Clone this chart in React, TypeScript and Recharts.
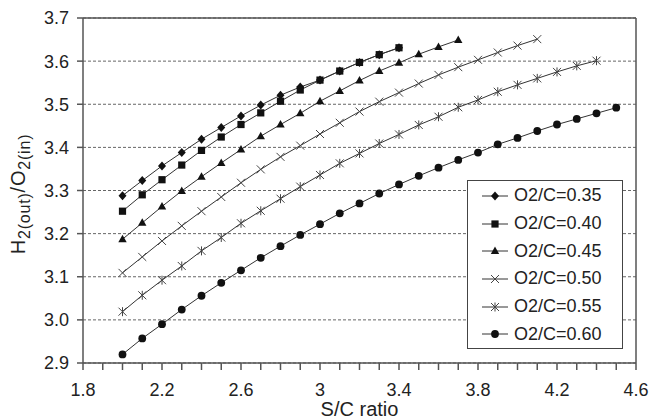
import React from "react";
import {
  LineChart,
  Line,
  XAxis,
  YAxis,
  CartesianGrid,
  ReferenceLine,
  Label,
} from "recharts";

// S/C ratio values (x), shared by all series; each series starts at 2.0
const scRatio = [
  2.0, 2.1, 2.2, 2.3, 2.4, 2.5, 2.6, 2.7, 2.8, 2.9, 3.0, 3.1, 3.2, 3.3, 3.4,
  3.5, 3.6, 3.7, 3.8, 3.9, 4.0, 4.1, 4.2, 4.3, 4.4, 4.5,
];

const o2c035 = [
  3.288, 3.323, 3.357, 3.388, 3.419, 3.446, 3.473, 3.498, 3.521, 3.54, 3.556,
  3.577, 3.597, 3.615, 3.631,
];
const o2c040 = [
  3.252, 3.29, 3.325, 3.359, 3.393, 3.424, 3.453, 3.48, 3.507, 3.533, 3.556,
  3.577, 3.597, 3.615, 3.631,
];
const o2c045 = [
  3.187, 3.225, 3.263, 3.299, 3.332, 3.364, 3.395, 3.426, 3.453, 3.479, 3.507,
  3.531, 3.555, 3.577, 3.596, 3.616, 3.633, 3.649,
];
const o2c050 = [
  3.109, 3.146, 3.183, 3.218, 3.252, 3.285, 3.318, 3.349, 3.378, 3.404, 3.431,
  3.457, 3.483, 3.506, 3.527, 3.548, 3.568, 3.586, 3.603, 3.62, 3.636, 3.651,
];
const o2c055 = [
  3.019, 3.057, 3.092, 3.125, 3.16, 3.191, 3.224, 3.253, 3.281, 3.309, 3.336,
  3.363, 3.386, 3.409, 3.43, 3.452, 3.471, 3.493, 3.51, 3.529, 3.545, 3.56,
  3.575, 3.589, 3.601,
];
const o2c060 = [
  2.92, 2.957, 2.99, 3.024, 3.056, 3.086, 3.115, 3.144, 3.171, 3.197, 3.222,
  3.247, 3.27, 3.293, 3.314, 3.334, 3.353, 3.371, 3.388, 3.407, 3.422, 3.438,
  3.453, 3.466, 3.479, 3.492,
];

const xTicks = [
  1.8, 1.9, 2.0, 2.1, 2.2, 2.3, 2.4, 2.5, 2.6, 2.7, 2.8, 2.9, 3.0, 3.1, 3.2,
  3.3, 3.4, 3.5, 3.6, 3.7, 3.8, 3.9, 4.0, 4.1, 4.2, 4.3, 4.4, 4.5, 4.6,
];
const yTicks = [2.9, 3.0, 3.1, 3.2, 3.3, 3.4, 3.5, 3.6, 3.7];

type Marker = "diamond" | "square" | "triangle" | "cross" | "star" | "circle";

const series: { name: string; values: number[]; marker: Marker }[] = [
  { name: "O2/C=0.35", values: o2c035, marker: "diamond" },
  { name: "O2/C=0.40", values: o2c040, marker: "square" },
  { name: "O2/C=0.45", values: o2c045, marker: "triangle" },
  { name: "O2/C=0.50", values: o2c050, marker: "cross" },
  { name: "O2/C=0.55", values: o2c055, marker: "star" },
  { name: "O2/C=0.60", values: o2c060, marker: "circle" },
];

const FONT = "'Liberation Sans', Arial, sans-serif";
const INK = "#111";
const LINE = "#333";

function markerShape(m: Marker, cx: number, cy: number, key?: string) {
  switch (m) {
    case "diamond":
      return (
        <path key={key} d={`M${cx},${cy - 4.5}L${cx + 4},${cy}L${cx},${cy + 4.5}L${cx - 4},${cy}Z`} fill={INK} />
      );
    case "square":
      return <rect key={key} x={cx - 3.6} y={cy - 3.6} width={7.2} height={7.2} fill={INK} />;
    case "triangle":
      return (
        <path key={key} d={`M${cx},${cy - 4.5}L${cx + 4.2},${cy + 3}L${cx - 4.2},${cy + 3}Z`} fill={INK} />
      );
    case "cross":
      return (
        <path key={key} d={`M${cx - 4},${cy - 4}L${cx + 4},${cy + 4}M${cx - 4},${cy + 4}L${cx + 4},${cy - 4}`} stroke="#444" strokeWidth={1} fill="none" />
      );
    case "star":
      return (
        <path key={key} d={`M${cx - 4},${cy - 4}L${cx + 4},${cy + 4}M${cx - 4},${cy + 4}L${cx + 4},${cy - 4}M${cx},${cy - 4.5}L${cx},${cy + 4.5}`} stroke="#444" strokeWidth={1} fill="none" />
      );
    default:
      return <circle key={key} cx={cx} cy={cy} r={3.9} fill={INK} />;
  }
}

const dotFor = (m: Marker) => (props: any) => {
  const { cx, cy, index } = props;
  if (cx == null || cy == null) return <g key={`e${index}`} />;
  return markerShape(m, cx, cy, `d${index}`);
};

const YTitle = () => (
  <text
    x={25}
    y={194}
    transform="rotate(-90 25 194)"
    textAnchor="middle"
    fontFamily={FONT}
    fontSize={20}
    letterSpacing={0.8}
    fill="#222"
  >
    <tspan>H</tspan>
    <tspan fontSize={16} dy={5}>2(out)</tspan>
    <tspan dy={-5}>/O</tspan>
    <tspan fontSize={16} dy={5}>2(in)</tspan>
  </text>
);

export default function App() {
  return (
    <div style={{ position: "absolute", left: 0, top: 0, width: 649, height: 419, background: "#fff" }}>
      <LineChart
        width={649}
        height={419}
        margin={{ top: 18, right: 13, left: 23, bottom: 26 }}
      >
        <CartesianGrid
          vertical={false}
          stroke="#666"
          strokeDasharray="3 2"
        />
        <XAxis
          type="number"
          dataKey="x"
          domain={[1.8, 4.6]}
          ticks={xTicks}
          interval={0}
          height={30}
          tickSize={7}
          tickMargin={13}
          stroke="#555"
          strokeWidth={1.5}
          tick={{ fill: "#222", fontSize: 18, fontFamily: FONT }}
          tickFormatter={(v: number) =>
            Math.round(v * 10) % 4 === 2 ? String(v) : ""
          }
          allowDataOverflow
        >
          <Label
            value="S/C ratio"
            position="bottom"
            offset={9}
            style={{ fill: "#222", fontSize: 20, fontFamily: FONT }}
          />
        </XAxis>
        <YAxis
          type="number"
          domain={[2.9, 3.7]}
          ticks={yTicks}
          interval={0}
          width={60}
          tickSize={6}
          tickMargin={8}
          stroke="#555"
          strokeWidth={1.5}
          tick={{ fill: "#222", fontSize: 18, fontFamily: FONT }}
          tickFormatter={(v: number) => v.toFixed(1)}
          allowDataOverflow
        >
          <Label content={() => <YTitle />} />
        </YAxis>
        <ReferenceLine y={3.7} stroke="#555" strokeWidth={1.5} />
        <ReferenceLine x={4.6} stroke="#555" strokeWidth={1.5} />
        {series.map((s) => (
          <Line
            key={s.name}
            name={s.name}
            data={s.values.map((v, i) => ({ x: scRatio[i], y: v }))}
            dataKey="y"
            stroke={LINE}
            strokeWidth={1}
            dot={dotFor(s.marker)}
            activeDot={false}
            isAnimationActive={false}
          />
        ))}
      </LineChart>
      <div
        style={{
          position: "absolute",
          left: 467,
          top: 180,
          width: 156,
          height: 169,
          border: "1.5px solid #444",
          background: "#fff",
          boxSizing: "border-box",
          fontFamily: FONT,
          fontSize: 18,
          color: "#222",
          paddingTop: 1,
        }}
      >
        {series.map((s) => (
          <div
            key={s.name}
            style={{ display: "flex", alignItems: "center", height: 27.7, whiteSpace: "nowrap" }}
          >
            <svg width={44} height={14} style={{ marginLeft: 12, flex: "none" }}>
              <line x1={2} y1={7} x2={28} y2={7} stroke={LINE} strokeWidth={1} />
              {markerShape(s.marker, 15, 7)}
            </svg>
            <span style={{ marginLeft: -10 }}>{s.name}</span>
          </div>
        ))}
      </div>
    </div>
  );
}
